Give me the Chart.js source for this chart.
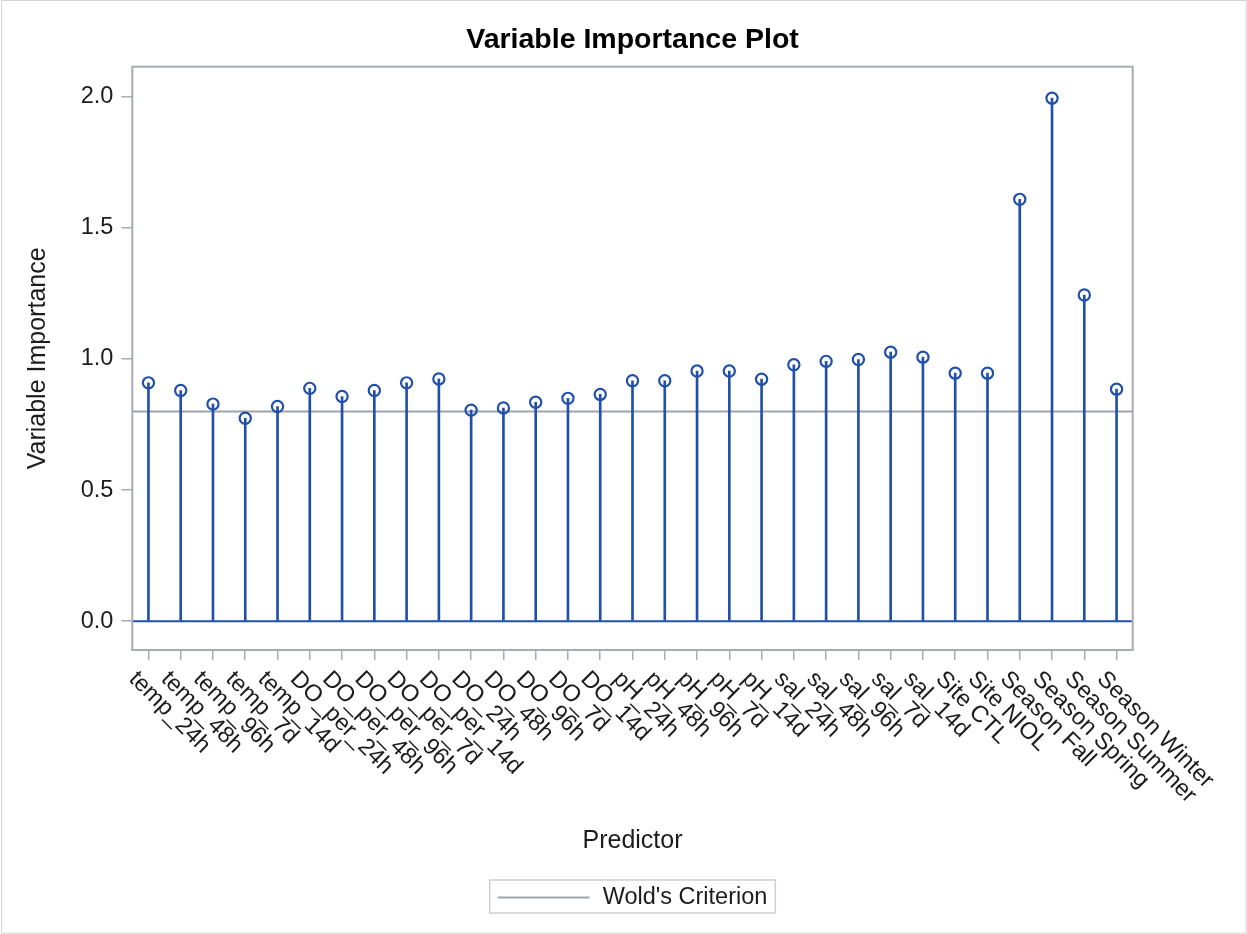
<!DOCTYPE html>
<html>
<head>
<meta charset="utf-8">
<script src="https://cdn.jsdelivr.net/npm/chart.js@4/dist/chart.umd.min.js"></script>
<style>
  html, body { margin: 0; padding: 0; background: #ffffff; }
  canvas { display: block; }
</style>
</head>
<body>
<canvas id="vip" width="1247" height="934"></canvas>
<script>
// Predictors of the PLS model and their VIP scores
const PREDICTORS = [
  'temp_24h', 'temp_48h', 'temp_96h', 'temp_7d', 'temp_14d',
  'DO_per_24h', 'DO_per_48h', 'DO_per_96h', 'DO_per_7d', 'DO_per_14d',
  'DO_24h', 'DO_48h', 'DO_96h', 'DO_7d', 'DO_14d',
  'pH_24h', 'pH_48h', 'pH_96h', 'pH_7d', 'pH_14d',
  'sal_24h', 'sal_48h', 'sal_96h', 'sal_7d', 'sal_14d',
  'Site CTL', 'Site NIOL',
  'Season Fall', 'Season Spring', 'Season Summer', 'Season Winter'
];
const IMPORTANCE = [
  0.909, 0.880, 0.828, 0.774, 0.819,
  0.888, 0.857, 0.880, 0.909, 0.924,
  0.805, 0.813, 0.835, 0.850, 0.865,
  0.917, 0.917, 0.954, 0.954, 0.923,
  0.978, 0.991, 0.998, 1.026, 1.007,
  0.946, 0.946,
  1.609, 1.995, 1.244, 0.885
];
const Y_TICKS = [0.0, 0.5, 1.0, 1.5, 2.0];
const Y_MIN = -0.11;
const Y_MAX = 2.115;
const WOLD_CRITERION = 0.8;
const TITLE_TEXT = 'Variable Importance Plot';
const X_TITLE = 'Predictor';
const Y_TITLE = 'Variable Importance';
const LEGEND_TEXT = "Wold's Criterion";

const FONT = '"Liberation Sans", Arial, Helvetica, sans-serif';
const VALUE_SIZE = 23.5;
const LABEL_SIZE = 25;
const TITLE_SIZE = 28.5;
const TEXT_COLOR = '#1c1c1c';
const FRAME_COLOR = '#a9adb1';
const STEM_COLOR = '#2150aa';
const REF_COLOR = '#9fa4a9';

const decorations = {
  id: 'decorations',
  beforeDraw(chart) {
    const { ctx, width, height } = chart;
    ctx.save();
    ctx.fillStyle = '#ffffff';
    ctx.fillRect(0, 0, width, height);
    ctx.strokeStyle = '#d6d6d6';
    ctx.lineWidth = 1;
    ctx.strokeRect(1.5, 0.5, width - 2.5, height - 1.5);
    ctx.restore();
  },
  beforeDatasetsDraw(chart) {
    // reference line at Wold's criterion
    const { ctx, chartArea: a, scales: { y } } = chart;
    const yw = y.getPixelForValue(WOLD_CRITERION);
    ctx.save();
    ctx.strokeStyle = REF_COLOR;
    ctx.lineWidth = 2;
    ctx.beginPath();
    ctx.moveTo(a.left, yw);
    ctx.lineTo(a.right, yw);
    ctx.stroke();
    ctx.restore();
  },
  afterDatasetsDraw(chart) {
    const { ctx, chartArea: a, scales: { y } } = chart;
    const y0 = y.getPixelForValue(0);
    ctx.save();
    // baseline of the needles
    ctx.strokeStyle = STEM_COLOR;
    ctx.lineWidth = 2;
    ctx.beginPath();
    ctx.moveTo(a.left, y0);
    ctx.lineTo(a.right, y0);
    ctx.stroke();
    // plot frame
    ctx.strokeStyle = FRAME_COLOR;
    ctx.lineWidth = 2;
    ctx.strokeRect(a.left, a.top, a.right - a.left, a.bottom - a.top);
    ctx.restore();
  },
  afterDraw(chart) {
    const { ctx, chartArea: a, scales: { x } } = chart;
    const cx = (a.left + a.right) / 2;
    ctx.save();

    // title
    ctx.fillStyle = '#000000';
    ctx.font = `bold ${TITLE_SIZE}px ${FONT}`;
    ctx.textAlign = 'center';
    ctx.textBaseline = 'alphabetic';
    ctx.fillText(TITLE_TEXT, cx, 47.5);

    // predictor names, rotated 45 degrees clockwise
    ctx.fillStyle = TEXT_COLOR;
    ctx.font = `${VALUE_SIZE}px ${FONT}`;
    ctx.textAlign = 'left';
    ctx.textBaseline = 'alphabetic';
    PREDICTORS.forEach((name, i) => {
      const px = x.getPixelForValue(i);
      ctx.save();
      ctx.translate(px - 20.5, a.bottom + 30);
      ctx.rotate(Math.PI / 4);
      ctx.fillText(name, 0, 0);
      ctx.restore();
    });

    // legend
    const tw = ctx.measureText(LEGEND_TEXT).width;
    const lineLen = 92, padL = 8, gap = 13, padR = 8;
    const boxW = padL + lineLen + gap + tw + padR;
    const boxTop = 880, boxH = 33;
    const bx = cx - boxW / 2;
    ctx.strokeStyle = '#cfcfcf';
    ctx.lineWidth = 1.5;
    ctx.strokeRect(bx, boxTop, boxW, boxH);
    const ly = boxTop + boxH / 2 + 1;
    ctx.strokeStyle = REF_COLOR;
    ctx.lineWidth = 2;
    ctx.beginPath();
    ctx.moveTo(bx + padL, ly);
    ctx.lineTo(bx + padL + lineLen, ly);
    ctx.stroke();
    ctx.fillStyle = TEXT_COLOR;
    ctx.textBaseline = 'middle';
    ctx.fillText(LEGEND_TEXT, bx + padL + lineLen + gap, ly);

    ctx.restore();
  }
};

new Chart(document.getElementById('vip'), {
  type: 'bar',
  data: {
    labels: PREDICTORS,
    datasets: [
      {
        type: 'line',
        label: 'VIP',
        data: IMPORTANCE,
        showLine: false,
        pointStyle: 'circle',
        pointRadius: 5.6,
        pointBorderWidth: 2.2,
        pointBorderColor: STEM_COLOR,
        pointBackgroundColor: 'rgba(255,255,255,0)',
        order: 1
      },
      {
        type: 'bar',
        label: 'VIP needles',
        data: IMPORTANCE,
        backgroundColor: STEM_COLOR,
        borderWidth: 0,
        barThickness: 2,
        order: 2
      }
    ]
  },
  options: {
    responsive: false,
    animation: false,
    events: [],
    devicePixelRatio: 1,
    layout: { padding: { left: 23, right: 114.3, top: 66.7, bottom: 77.7 } },
    plugins: {
      legend: { display: false },
      title: { display: false },
      tooltip: { enabled: false }
    },
    scales: {
      x: {
        type: 'category',
        offset: true,
        grid: {
          offset: false,
          display: true,
          drawOnChartArea: false,
          drawTicks: true,
          tickLength: 10,
          color: FRAME_COLOR,
          lineWidth: 1.5
        },
        border: { display: false },
        ticks: { display: false },
        title: {
          display: true,
          text: X_TITLE,
          color: TEXT_COLOR,
          font: { family: FONT, size: LABEL_SIZE },
          padding: { top: 0, bottom: 0 }
        },
        afterFit(scale) { scale.height = 206.3; }
      },
      y: {
        type: 'linear',
        min: Y_MIN,
        max: Y_MAX,
        afterBuildTicks(scale) { scale.ticks = Y_TICKS.map(v => ({ value: v })); },
        grid: {
          display: true,
          drawOnChartArea: false,
          drawTicks: true,
          tickLength: 11,
          color: FRAME_COLOR,
          lineWidth: 1.5
        },
        border: { display: false },
        ticks: {
          color: TEXT_COLOR,
          padding: 8,
          font: { family: FONT, size: VALUE_SIZE },
          callback: (v) => Number(v).toFixed(1)
        },
        title: {
          display: true,
          text: Y_TITLE,
          color: TEXT_COLOR,
          font: { family: FONT, size: LABEL_SIZE },
          padding: { top: 0, bottom: 0 }
        },
        afterFit(scale) { scale.width = 109.3; }
      }
    }
  },
  plugins: [decorations]
});
</script>
</body>
</html>
